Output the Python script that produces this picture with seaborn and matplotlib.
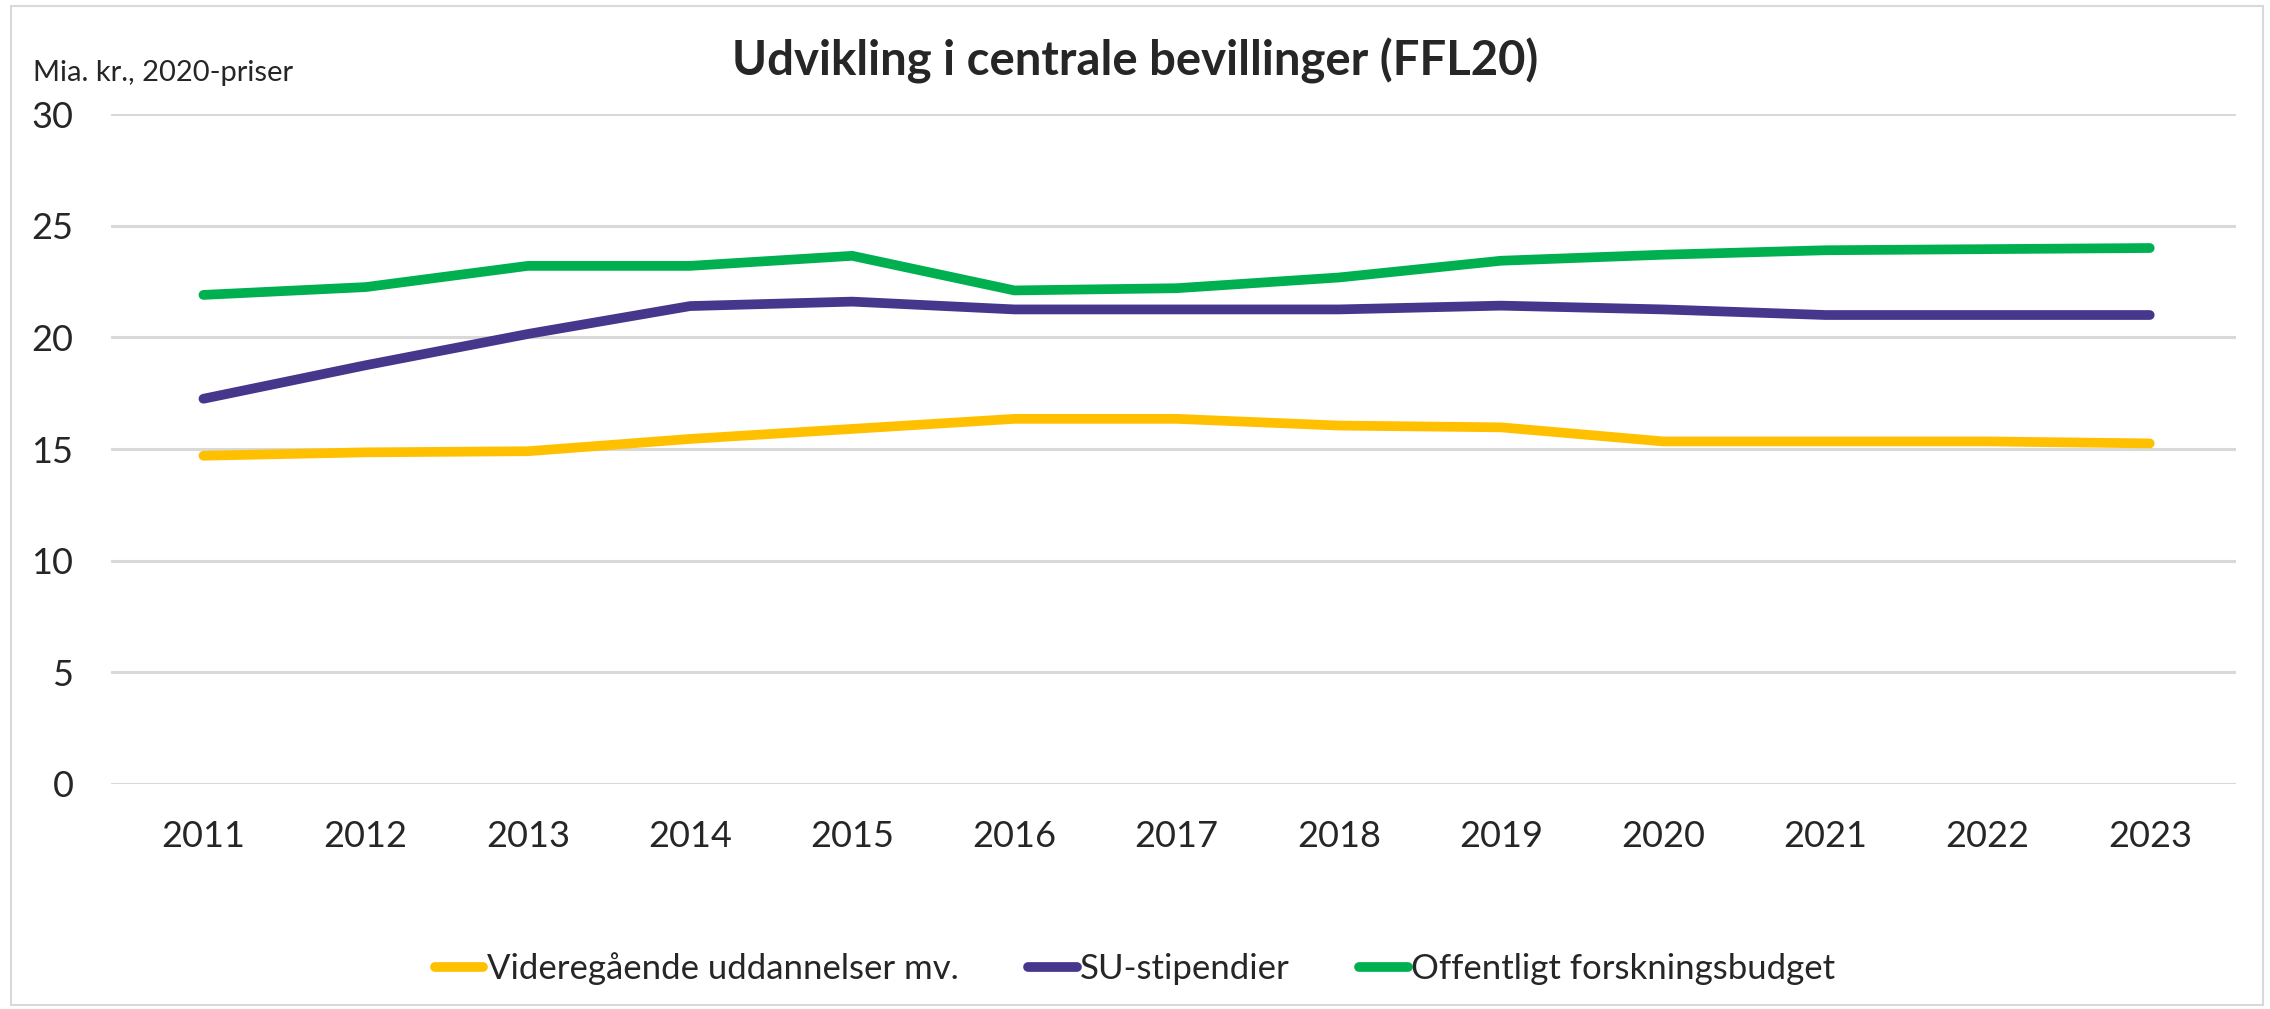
import numpy as np
import pandas as pd
import matplotlib.pyplot as plt
import seaborn as sns
from matplotlib.patches import Rectangle

# Data
aar = [2011, 2012, 2013, 2014, 2015, 2016, 2017, 2018, 2019, 2020, 2021, 2022, 2023]
videregaaende = [14.7, 14.85, 14.9, 15.45, 15.9, 16.35, 16.35, 16.05, 15.97, 15.34, 15.34, 15.34, 15.25]
su_stipendier = [17.25, 18.75, 20.15, 21.4, 21.6, 21.25, 21.25, 21.25, 21.42, 21.25, 21.0, 21.0, 21.0]
forskning = [21.9, 22.25, 23.2, 23.2, 23.65, 22.1, 22.2, 22.68, 23.43, 23.7, 23.9, 23.95, 24.0]

serier = ["Videregående uddannelser mv.", "SU-stipendier", "Offentligt forskningsbudget"]
farver = ["#FFC000", "#46368C", "#00B050"]

# Long format til seaborn
df = pd.DataFrame({
    "pos": list(range(len(aar))) * 3,
    "vaerdi": videregaaende + su_stipendier + forskning,
    "serie": [serier[0]] * len(aar) + [serier[1]] * len(aar) + [serier[2]] * len(aar),
})

sns.set_style("white")
plt.rcParams["font.family"] = ["Lato", "DejaVu Sans"]

fig = plt.figure(figsize=(22.7, 10.09), dpi=100)
ax = fig.add_axes([0.0489, 0.223, 0.936, 0.664])

sns.lineplot(data=df, x="pos", y="vaerdi", hue="serie", hue_order=serier,
             palette=farver, linewidth=7, ax=ax, legend=False,
             solid_capstyle="round", sort=False)

ax.set_ylim(0, 30)
ax.set_xlim(-0.57, 12.53)
ax.set_yticks([0, 5, 10, 15, 20, 25, 30])
ax.set_xticks(range(len(aar)))
ax.set_xticklabels([str(a) for a in aar])
ax.set_xlabel("")
ax.set_ylabel("")
ax.tick_params(axis="y", length=0, pad=27, labelsize=26)
ax.tick_params(axis="x", length=0, pad=26, labelsize=26)
ax.grid(axis="y", color="#D9D9D9", linewidth=2.2)
ax.grid(axis="x", visible=False)
ax.set_axisbelow(True)
for s in ax.spines.values():
    s.set_visible(False)

# Titel og enhed
fig.text(0.5, 0.94, "Udvikling i centrale bevillinger (FFL20)", ha="center", va="center",
         fontsize=34, fontweight="bold")
fig.text(0.0145, 0.928, "Mia. kr., 2020-priser", ha="left", va="center", fontsize=21)

# Legende
handles = [plt.Line2D([0], [0], color=c, linewidth=7, solid_capstyle="round") for c in farver]
fig.legend(handles, serier, loc="center", bbox_to_anchor=(0.5, 0.04), ncol=3, frameon=False,
           fontsize=25, handlelength=1.4, handletextpad=0.1, columnspacing=2.0)

# Ramme om figuren
fig.patches.append(Rectangle((0.005, 0.004), 0.992, 0.99, transform=fig.transFigure,
                             fill=False, edgecolor="#D9D9D9", linewidth=1.5))

fig.savefig("out.png", dpi=100)
